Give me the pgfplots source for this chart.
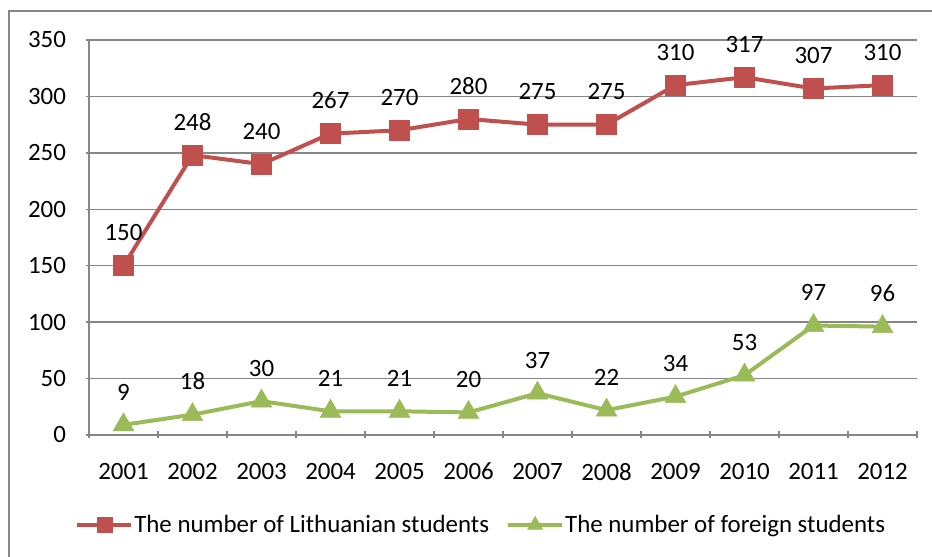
\documentclass[border=0pt]{standalone}
\usepackage{pgfplots}
\pgfplotsset{compat=1.18}
\usepackage{fontspec}
\setmainfont{Carlito}
\definecolor{redS}{RGB}{192,80,77}
\definecolor{greenS}{RGB}{155,187,89}
\definecolor{gridc}{RGB}{134,134,134}
\begin{document}
\begin{tikzpicture}[x=1bp,y=1bp]
\useasboundingbox (0,0) rectangle (932,557);
\draw[gridc, line width=2.5bp] (9,0) -- (9,546) -- (932,546);
\begin{axis}[
  at={(89bp,122bp)}, anchor=south west,
  scale only axis, width=828bp, height=395bp,
  xmin=-0.5, xmax=11.5, ymin=0, ymax=350,
  ytick={0,50,...,350},
  xtick={0,...,11},
  xticklabels={2001,2002,2003,2004,2005,2006,2007,2008,2009,2010,2011,2012},
  minor xtick={-0.5,0.5,...,11.5},
  tick align=outside,
  major tick length=7bp, minor tick length=7bp,
  major x tick style={draw=none},
  every tick/.style={gridc, line width=1.5bp},
  minor x tick style={gridc, line width=1.5bp},
  axis lines=left,
  axis line style={-, gridc, line width=1.5bp},
  ymajorgrids,
  major grid style={gridc, line width=1.5bp},
  tick label style={font=\fontsize{25}{29}\selectfont, black},
  /pgf/number format/assume math mode=true,
  yticklabel style={xshift=-16bp},
  xticklabel style={yshift=-21bp},
  nodes near coords,
  every node near coord/.append style={font=\fontsize{25}{29}\selectfont, black, anchor=south, yshift=21bp},
  legend style={at={(0.473,-0.228)}, anchor=center, draw=none, fill=none,
    font=\fontsize{25}{29}\selectfont, legend columns=2,
    nodes={inner xsep=1bp},
    /tikz/every even column/.append style={column sep=16bp}},
  clip=false,
]
\addplot[redS, line width=4bp, mark=square*, mark size=10bp, mark options={solid, fill=redS, line width=0.5bp},
  legend image code/.code={\draw[mark repeat=2,mark phase=2, mark size=7.5bp] plot coordinates {(0bp,0bp) (27bp,0bp) (54bp,0bp)};}]
  coordinates {(0,150) (1,248) (2,240) (3,267) (4,270) (5,280) (6,275) (7,275) (8,310) (9,317) (10,307) (11,310)};
\addlegendentry{The number of Lithuanian students}
\addplot[greenS, line width=4bp, mark=triangle*, mark size=12bp, mark options={solid, fill=greenS, line width=0.5bp},
  legend image code/.code={\draw[mark repeat=2,mark phase=2, mark size=8.7bp] plot coordinates {(0bp,0bp) (27bp,0bp) (54bp,0bp)};}]
  coordinates {(0,9) (1,18) (2,30) (3,21) (4,21) (5,20) (6,37) (7,22) (8,34) (9,53) (10,97) (11,96)};
\addlegendentry{The number of foreign students}
\end{axis}
\end{tikzpicture}
\end{document}
